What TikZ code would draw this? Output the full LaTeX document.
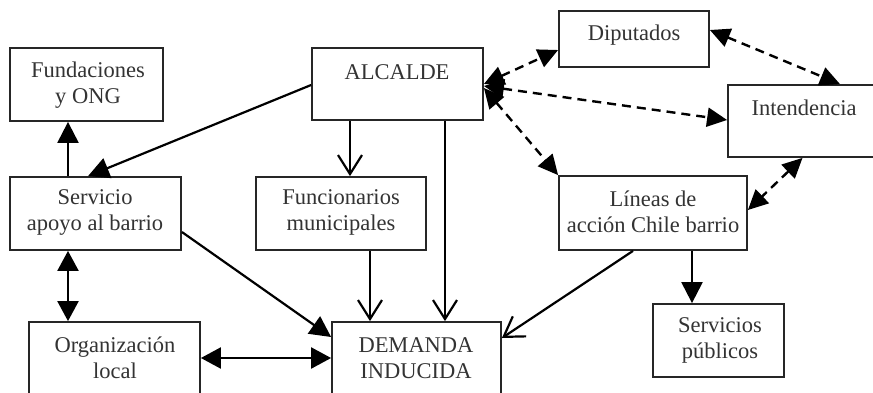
\documentclass[tikz,border=0pt]{standalone}
\usepackage{fontspec}
\setmainfont{Liberation Serif}
\usetikzlibrary{arrows.meta,calc}
\begin{document}
\begin{tikzpicture}[x=1pt,y=-1pt,
  box/.style={draw=black!85,line width=1.8pt,inner sep=0pt,minimum width=#1},
  txt/.style={align=center,font=\fontsize{22.5}{26}\selectfont,text=black!80,inner sep=0pt},
  fa/.style={line width=2.2pt,-{Triangle[length=21pt,width=21pt]}},
  fb/.style={line width=2.2pt,{Triangle[length=20pt,width=21pt]}-{Triangle[length=20pt,width=21pt]}},
  oa/.style={line width=2.2pt,-{Straight Barb[length=19pt,width=24pt,line width=2.2pt]}},
  da/.style={line width=2.4pt,dash pattern=on 9pt off 6pt,{Triangle[length=20pt,width=19pt]}-{Triangle[length=20pt,width=19pt]}}
]
\useasboundingbox (0,0) rectangle (873,392);
\clip (0,0) rectangle (873,392);
\fill[white] (0,0) rectangle (873,392);
% boxes
\node[box=153pt,minimum height=73pt] (fund) at (86.5,84.5) {};
\node[box=171pt,minimum height=72pt] (alc) at (397.5,84) {};
\node[box=150pt,minimum height=56pt] (dip) at (634,39) {};
\node[box=157pt,minimum height=72pt] (int) at (806.5,121) {};
\node[box=171pt,minimum height=73pt] (serv) at (95.5,213.5) {};
\node[box=170pt,minimum height=73pt] (func) at (341,213.5) {};
\node[box=188pt,minimum height=74pt] (lin) at (653,213) {};
\node[box=171pt,minimum height=76pt] (org) at (114.5,360) {};
\node[box=169pt,minimum height=76pt] (dem) at (416.5,360) {};
\node[box=131pt,minimum height=73pt] (serp) at (718.5,340.5) {};
% texts
\node[txt] (tfund) at (88,85) {Fundaciones\\y ONG};
\node[txt] (talc) at (397,72) {ALCALDE};
\node[txt] (tdip) at (634,35) {Diputados};
\node[txt] (tint) at (804,108) {Intendencia};
\node[txt] (tserv) at (95,212) {Servicio\\apoyo al barrio};
\node[txt] (tfunc) at (341,212) {Funcionarios\\municipales};
\node[txt] (tlin) at (653,212) {L\'ineas de\\acci\'on Chile barrio};
\node[txt] (torg) at (115,358) {Organizaci\'on\\local};
\node[txt] (tdem) at (416,358) {DEMANDA\\INDUCIDA};
\node[txt] (tserp) at (720,340) {Servicios\\p\'ublicos};
% solid connectors
\draw[fa] ($(serv.north)+(-27.5,0)$) -- ($(fund.south)+(-18.5,0)$);
\draw[fa] ($(alc.west)+(0,1)$) -- ($(serv.north)+(-7.5,0)$);
\draw[oa] ($(alc.south)+(-47.5,0)$) -- ($(func.north)+(9,0)$);
\draw[oa] ($(alc.south)+(47.5,0)$) -- ($(dem.north)+(28.5,0)$);
\draw[oa] ($(func.south)+(29,0)$) -- ($(dem.north)+(-46.5,0)$);
\draw[fa] ($(serv.east)+(0,18.5)$) -- ($(dem.west)+(0,-23)$);
\draw[fb] ($(serv.south)+(-27.5,0)$) -- ($(org.north)+(-46.5,0)$);
\draw[fb] ($(org.east)+(0,-2)$) -- ($(dem.west)+(0,-2)$);
\draw[oa] ($(lin.south)+(-20,0)$) -- ($(dem.east)+(0,-22)$);
\draw[fa] ($(lin.south)+(39,0)$) -- ($(serp.north)+(-26.5,0)$);
% dashed connectors
\draw[da] ($(alc.east)+(0,0)$) -- ($(dip.west)+(0,11)$);
\draw[da] ($(alc.east)+(0,2)$) -- ($(int.west)+(0,-1)$);
\draw[da] ($(alc.east)+(0,4)$) -- (lin.north west);
\draw[da] ($(dip.east)+(0,-9)$) -- ($(int.north)+(33.5,0)$);
\draw[da] ($(int.south)+(-4,0)$) -- ($(lin.east)+(0,-3)$);
\end{tikzpicture}
\end{document}
